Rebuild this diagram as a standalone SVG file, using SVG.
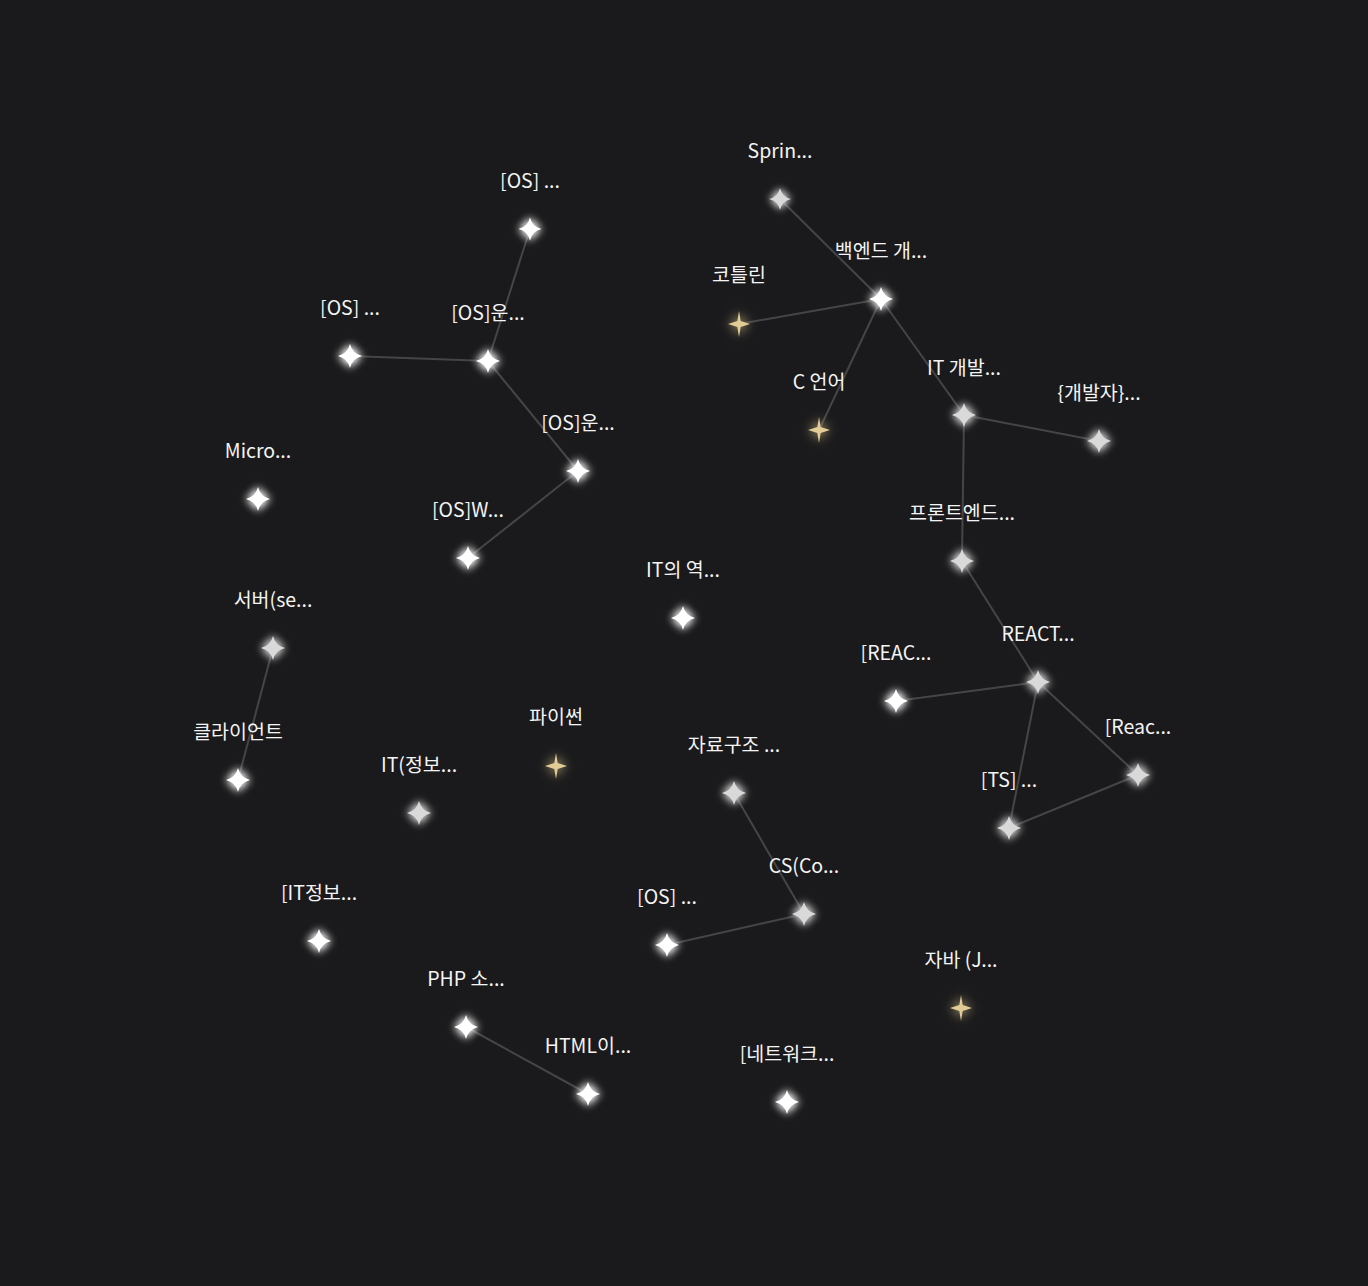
<svg xmlns="http://www.w3.org/2000/svg" width="1368" height="1286" viewBox="0 0 1368 1286">
<defs>
<filter id="glow" x="-150%" y="-150%" width="400%" height="400%">
<feGaussianBlur in="SourceGraphic" stdDeviation="5" result="b"/>
<feMerge><feMergeNode in="b"/><feMergeNode in="b"/><feMergeNode in="SourceGraphic"/></feMerge>
</filter>
<filter id="glowg" x="-150%" y="-150%" width="400%" height="400%">
<feGaussianBlur in="SourceGraphic" stdDeviation="6" result="b"/>
<feMerge><feMergeNode in="b"/><feMergeNode in="SourceGraphic"/></feMerge>
</filter>
<path id="st" d="M0,-12 Q2.4,-2.4 12,0 Q2.4,2.4 0,12 Q-2.4,2.4 -12,0 Q-2.4,-2.4 0,-12Z"/>
<path id="gs" d="M0,-13 L1.7,-3 L11,0 L1.7,3 L0,13 L-1.7,3 L-11,0 L-1.7,-3Z"/>
</defs>
<style>
text{font-family:"Noto Sans CJK KR","Noto Sans",sans-serif;font-size:19.5px;font-weight:400;fill:#f4f4f4;text-anchor:middle}
.w{fill:#ffffff;filter:url(#glow)}
.g{fill:#d9d9d9;filter:url(#glow)}
.au{fill:#e2cc95;filter:url(#glowg)}
.edges line{stroke:#454547;stroke-width:2}
</style>
<rect width="1368" height="1286" fill="#1a1a1c"/>
<g class="edges">
<line x1="780" y1="199" x2="881" y2="299"/>
<line x1="881" y1="299" x2="739" y2="324"/>
<line x1="881" y1="299" x2="819" y2="430"/>
<line x1="881" y1="299" x2="964" y2="415"/>
<line x1="964" y1="415" x2="1099" y2="441"/>
<line x1="964" y1="415" x2="962" y2="561"/>
<line x1="962" y1="561" x2="1038" y2="682"/>
<line x1="1038" y1="682" x2="896" y2="701"/>
<line x1="1038" y1="682" x2="1138" y2="775"/>
<line x1="1038" y1="682" x2="1009" y2="828"/>
<line x1="1009" y1="828" x2="1138" y2="775"/>
<line x1="530" y1="229" x2="488" y2="361"/>
<line x1="350" y1="356" x2="488" y2="361"/>
<line x1="488" y1="361" x2="578" y2="471"/>
<line x1="578" y1="471" x2="468" y2="558"/>
<line x1="273" y1="648" x2="238" y2="780"/>
<line x1="734" y1="793" x2="804" y2="914"/>
<line x1="804" y1="914" x2="667" y2="945"/>
<line x1="466" y1="1027" x2="588" y2="1094"/>
</g>
<g id="n1"><use href="#st" class="g" transform="translate(780,199) scale(0.9)"/><text x="780" y="158">Sprin...</text></g>
<g id="n2"><use href="#st" class="w" transform="translate(530,229) scale(0.95)"/><text x="530" y="188">[OS] ...</text></g>
<g id="n3"><use href="#st" class="w" transform="translate(881,299)"/><text x="881" y="258">백엔드 개...</text></g>
<g id="n4"><use href="#gs" class="au" transform="translate(739,324)"/><text x="739" y="282">코틀린</text></g>
<g id="n5"><use href="#st" class="w" transform="translate(350,356)"/><text x="350" y="315">[OS] ...</text></g>
<g id="n6"><use href="#st" class="w" transform="translate(488,361)"/><text x="488" y="320">[OS]운...</text></g>
<g id="n7"><use href="#gs" class="au" transform="translate(819,430)"/><text x="819" y="389">C 언어</text></g>
<g id="n8"><use href="#st" class="g" transform="translate(964,415)"/><text x="964" y="375">IT 개발...</text></g>
<g id="n9"><use href="#st" class="g" transform="translate(1099,441)"/><text x="1099" y="400">{개발자}...</text></g>
<g id="n10"><use href="#st" class="w" transform="translate(578,471)"/><text x="578" y="430">[OS]운...</text></g>
<g id="n11"><use href="#st" class="w" transform="translate(258,499)"/><text x="258" y="458">Micro...</text></g>
<g id="n12"><use href="#st" class="w" transform="translate(468,558)"/><text x="468" y="517">[OS]W...</text></g>
<g id="n13"><use href="#st" class="g" transform="translate(962,561)"/><text x="962" y="520">프론트엔드...</text></g>
<g id="n14"><use href="#st" class="w" transform="translate(683,618)"/><text x="683" y="577">IT의 역...</text></g>
<g id="n15"><use href="#st" class="g" transform="translate(273,648)"/><text x="273" y="607">서버(se...</text></g>
<g id="n16"><use href="#st" class="g" transform="translate(1038,682)"/><text x="1038" y="641">REACT...</text></g>
<g id="n17"><use href="#st" class="w" transform="translate(896,701)"/><text x="896" y="660">[REAC...</text></g>
<g id="n18"><use href="#st" class="w" transform="translate(238,780)"/><text x="238" y="739">클라이언트</text></g>
<g id="n19"><use href="#gs" class="au" transform="translate(556,766)"/><text x="556" y="724">파이썬</text></g>
<g id="n20"><use href="#st" class="g" transform="translate(1138,775)"/><text x="1138" y="734">[Reac...</text></g>
<g id="n21"><use href="#st" class="g" transform="translate(734,793)"/><text x="734" y="752">자료구조 ...</text></g>
<g id="n22"><use href="#st" class="g" transform="translate(419,813)"/><text x="419" y="772">IT(정보...</text></g>
<g id="n23"><use href="#st" class="g" transform="translate(1009,828)"/><text x="1009" y="787">[TS] ...</text></g>
<g id="n24"><use href="#st" class="g" transform="translate(804,914)"/><text x="804" y="873">CS(Co...</text></g>
<g id="n25"><use href="#st" class="w" transform="translate(319,941)"/><text x="319" y="900">[IT정보...</text></g>
<g id="n26"><use href="#st" class="w" transform="translate(667,945)"/><text x="667" y="904">[OS] ...</text></g>
<g id="n27"><use href="#gs" class="au" transform="translate(961,1008)"/><text x="961" y="967">자바 (J...</text></g>
<g id="n28"><use href="#st" class="w" transform="translate(466,1027)"/><text x="466" y="986">PHP 소...</text></g>
<g id="n29"><use href="#st" class="w" transform="translate(588,1094)"/><text x="588" y="1053">HTML이...</text></g>
<g id="n30"><use href="#st" class="w" transform="translate(787,1102)"/><text x="787" y="1061">[네트워크...</text></g>
</svg>
